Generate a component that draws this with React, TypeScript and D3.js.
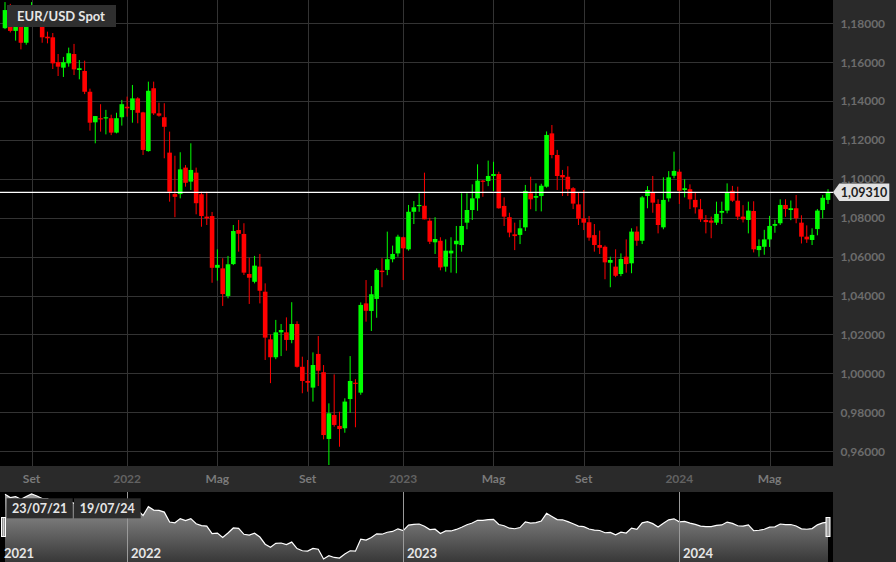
import React, { useEffect } from 'react';
import * as d3 from 'd3';

const W = 896;
const H = 562;
const START = new Date(2021, 6, 26);

const opens = [
  1.1775, 1.1868, 1.1761, 1.1795, 1.17, 1.1795, 1.188, 1.1813, 1.1731, 1.1728,
  1.16, 1.1572, 1.1594, 1.1642, 1.156, 1.1555, 1.1448, 1.1291, 1.1312, 1.1312,
  1.1312, 1.1238, 1.1317, 1.1371, 1.1354, 1.1414, 1.1342, 1.1143, 1.1466, 1.1337,
  1.1317, 1.1135, 1.0922, 1.0922, 1.1058, 1.0986, 1.1032, 1.0921, 1.0806, 1.0809,
  1.0543, 1.054, 1.0398, 1.0562, 1.0737, 1.0717, 1.0511, 1.0471, 1.0549, 1.042,
  1.0175, 1.0083, 1.0211, 1.0211, 1.0172, 1.0254, 1.0034, 0.9961, 0.9927, 1.01,
  1.0006, 0.9663, 0.9786, 0.973, 0.9718, 0.9868, 0.9952, 0.9901, 1.036, 1.0321,
  1.0383, 1.0528, 1.0532, 1.0587, 1.0617, 1.07, 1.0638, 1.0831, 1.0861, 1.0862,
  1.0785, 1.0674, 1.0682, 1.0549, 1.0617, 1.0664, 1.066, 1.0775, 1.084, 1.09,
  1.0991, 1.0989, 1.1015, 1.1025, 1.0861, 1.0803, 1.0715, 1.0712, 1.0751, 1.0926,
  1.0903, 1.0912, 1.096, 1.1234, 1.1123, 1.102, 1.1011, 1.0952, 1.0869, 1.0797,
  1.0777, 1.0711, 1.066, 1.0651, 1.0569, 1.0549, 1.0511, 1.06, 1.0566, 1.0729,
  1.0682, 1.0912, 1.0929, 1.0871, 1.0751, 1.09, 1.1016, 1.1037, 1.0943, 1.0947,
  1.0892, 1.0844, 1.0789, 1.0786, 1.0775, 1.0826, 1.0837, 1.0939, 1.0888, 1.0806,
  1.0789, 1.0835, 1.0634, 1.0651, 1.0689, 1.0759, 1.0772, 1.0866, 1.084, 1.0849,
  1.0775, 1.0703, 1.0686, 1.0742, 1.084, 1.0892,
];

const highs = [
  1.1909, 1.19, 1.1806, 1.1806, 1.181, 1.1909, 1.1884, 1.1846, 1.1757, 1.175,
  1.1642, 1.1627, 1.1675, 1.1694, 1.1611, 1.1608, 1.1464, 1.1323, 1.1384, 1.1355,
  1.133, 1.134, 1.1406, 1.1423, 1.1483, 1.142, 1.1345, 1.15, 1.15, 1.1392,
  1.1389, 1.1243, 1.1119, 1.1137, 1.1071, 1.1183, 1.1058, 1.0934, 1.0934, 1.083,
  1.0638, 1.0592, 1.0604, 1.0763, 1.0789, 1.0772, 1.0595, 1.0604, 1.0614, 1.0463,
  1.02, 1.0275, 1.0254, 1.0288, 1.0366, 1.0268, 1.0086, 1.0069, 1.0108, 1.0192,
  1.0043, 0.9846, 0.9995, 0.9803, 0.9872, 1.0089, 0.997, 1.0365, 1.048, 1.0449,
  1.054, 1.0592, 1.0729, 1.0657, 1.0713, 1.0703, 1.0866, 1.0886, 1.0926, 1.1032,
  1.08, 1.0803, 1.07, 1.0689, 1.07, 1.0758, 1.0926, 1.0926, 1.0972, 1.1075,
  1.0994, 1.1094, 1.1088, 1.1037, 1.0905, 1.0826, 1.0775, 1.0789, 1.0969, 1.1011,
  1.0977, 1.0975, 1.1244, 1.1277, 1.1149, 1.1046, 1.1065, 1.0958, 1.0929, 1.0943,
  1.0809, 1.0768, 1.0734, 1.0658, 1.06, 1.0638, 1.0617, 1.0689, 1.0746, 1.0756,
  1.0912, 1.0963, 1.1015, 1.0895, 1.1008, 1.104, 1.114, 1.1049, 1.0998, 1.0972,
  1.0932, 1.0897, 1.0814, 1.0806, 1.0883, 1.0883, 1.0977, 1.0964, 1.096, 1.0865,
  1.0883, 1.0885, 1.0689, 1.0738, 1.081, 1.079, 1.0895, 1.0895, 1.0889, 1.0917,
  1.0813, 1.0761, 1.0746, 1.0845, 1.0917, 1.0947,
];

const lows = [
  1.177, 1.1753, 1.1711, 1.1666, 1.169, 1.179, 1.18, 1.17, 1.1697, 1.1565,
  1.1529, 1.1524, 1.1577, 1.1534, 1.1512, 1.1436, 1.1248, 1.1183, 1.1243, 1.1229,
  1.1225, 1.1234, 1.1274, 1.132, 1.1289, 1.1286, 1.1123, 1.114, 1.1329, 1.132,
  1.1106, 1.0883, 1.0803, 1.09, 1.096, 1.0943, 1.0818, 1.0754, 1.0763, 1.0466,
  1.0477, 1.0347, 1.0386, 1.0557, 1.0626, 1.0506, 1.0357, 1.0463, 1.036, 1.0069,
  0.995, 1.0073, 1.0089, 1.0117, 1.0155, 1.003, 0.9898, 0.9906, 0.9855, 0.9935,
  0.9661, 0.9529, 0.9726, 0.9623, 0.9695, 0.9798, 0.9723, 0.989, 1.0266, 1.0218,
  1.0286, 1.0443, 1.0505, 1.0571, 1.06, 1.048, 1.0631, 1.0768, 1.0831, 1.0792,
  1.0665, 1.0614, 1.053, 1.0523, 1.0518, 1.0515, 1.0626, 1.0741, 1.0789, 1.0836,
  1.0908, 1.0963, 1.0938, 1.0847, 1.0758, 1.07, 1.0634, 1.0665, 1.0732, 1.0844,
  1.0834, 1.0833, 1.0955, 1.1106, 1.0943, 1.0912, 1.0912, 1.0845, 1.0763, 1.0737,
  1.0682, 1.0626, 1.0614, 1.0484, 1.0443, 1.0495, 1.05, 1.0518, 1.0515, 1.0656,
  1.0665, 1.0849, 1.0826, 1.072, 1.0741, 1.0883, 1.1003, 1.0871, 1.0905, 1.0845,
  1.0822, 1.0779, 1.072, 1.0695, 1.0763, 1.0768, 1.0823, 1.0882, 1.0789, 1.0776,
  1.072, 1.0622, 1.06, 1.061, 1.065, 1.0723, 1.0763, 1.0805, 1.0788, 1.0772,
  1.0668, 1.0671, 1.066, 1.071, 1.0797, 1.0871,
];

const closes = [
  1.1868, 1.1761, 1.1795, 1.17, 1.1795, 1.188, 1.1813, 1.1728, 1.1723, 1.1594,
  1.1577, 1.16, 1.1646, 1.1563, 1.1569, 1.1448, 1.1289, 1.1323, 1.1306, 1.1317,
  1.1238, 1.1312, 1.1384, 1.1363, 1.1414, 1.134, 1.1149, 1.1453, 1.1337, 1.1325,
  1.1268, 1.0934, 1.0908, 1.1049, 1.098, 1.1046, 1.0875, 1.0809, 1.0797, 1.0543,
  1.0558, 1.0408, 1.0561, 1.0732, 1.0718, 1.0518, 1.0492, 1.0554, 1.0425, 1.0184,
  1.0083, 1.0211, 1.0223, 1.0172, 1.0254, 1.0034, 0.9961, 0.9952, 1.0043, 1.0014,
  0.9683, 0.9795, 0.9735, 0.9714, 0.9855, 0.9961, 0.9946, 1.0352, 1.0322, 1.0407,
  1.0532, 1.0521, 1.0587, 1.0614, 1.0703, 1.0643, 1.0831, 1.0854, 1.0866, 1.0792,
  1.0677, 1.0691, 1.0545, 1.0631, 1.0631, 1.0682, 1.0758, 1.084, 1.09, 1.0991,
  1.0986, 1.1015, 1.1025, 1.0849, 1.0806, 1.0724, 1.0706, 1.0746, 1.0938, 1.0895,
  1.0912, 1.0965, 1.1226, 1.1123, 1.1015, 1.1008, 1.0947, 1.0873, 1.0795, 1.0775,
  1.0698, 1.066, 1.0646, 1.0571, 1.0583, 1.0502, 1.0588, 1.0562, 1.0729, 1.0682,
  1.0905, 1.0943, 1.0878, 1.0763, 1.0892, 1.1008, 1.1041, 1.0939, 1.0952, 1.0895,
  1.0854, 1.0792, 1.0778, 1.0775, 1.082, 1.0835, 1.0931, 1.0888, 1.0806, 1.0792,
  1.0837, 1.0638, 1.0655, 1.0689, 1.0758, 1.0768, 1.0866, 1.0845, 1.0849, 1.0797,
  1.0703, 1.0689, 1.0712, 1.0837, 1.0903, 1.0931,
];

const monthTicks = [
  { date: '2021-09-01', label: 'Set', year: false },
  { date: '2022-01-01', label: '2022', year: true },
  { date: '2022-05-01', label: 'Mag', year: false },
  { date: '2022-09-01', label: 'Set', year: false },
  { date: '2023-01-01', label: '2023', year: true },
  { date: '2023-05-01', label: 'Mag', year: false },
  { date: '2023-09-01', label: 'Set', year: false },
  { date: '2024-01-01', label: '2024', year: true },
  { date: '2024-05-01', label: 'Mag', year: false },
];

const navYears = [
  { date: '2021-01-01', label: '2021' },
  { date: '2022-01-01', label: '2022' },
  { date: '2023-01-01', label: '2023' },
  { date: '2024-01-01', label: '2024' },
];

const yTicks = [0.96, 0.98, 1.0, 1.02, 1.04, 1.06, 1.08, 1.1, 1.12, 1.14, 1.16, 1.18];
const lastPrice = 1.0931;
const title = 'EUR/USD Spot';
const rangeLabels = ['23/07/21', '19/07/24'];

const FONT = 'Lato, "Open Sans", sans-serif';

export default function App() {
  useEffect(() => {
    document.body.style.margin = '0';
    document.body.style.background = '#000';
  }, []);

  const n = closes.length;
  const dates = d3.range(n).map((i) => d3.timeDay.offset(START, 7 * i));
  const plotR = 833;
  const plotB = 466;
  const navT = 492;

  const x = d3.scaleLinear().domain([0, n - 1]).range([5, 828]);
  const y = d3.scaleLinear().domain([0.96, 1.18]).range([451.2, 23.3]);

  const parse = d3.timeParse('%Y-%m-%d');
  const tickIndex = (ds: string) => {
    const t = parse(ds)!;
    return dates.findIndex((d) => d3.timeDay.offset(d, 4) >= t);
  };

  const fmt = (v: number) => d3.format('.5f')(v).replace('.', ',');

  const navY = d3
    .scaleLinear()
    .domain(d3.extent(closes) as [number, number])
    .range([559, 494]);
  const idx = d3.range(n);
  const navArea = d3
    .area<number>()
    .x((i) => x(i))
    .y0(H)
    .y1((i) => navY(closes[i]))
    .curve(d3.curveLinear);
  const navLine = d3
    .line<number>()
    .x((i) => x(i))
    .y((i) => navY(closes[i]));

  const bodyW = 4.6;
  const priceY = y(lastPrice);

  return (
    <svg
      width={W}
      height={H}
      style={{ position: 'fixed', left: 0, top: 0, display: 'block' }}
      fontFamily={FONT}
    >
      <defs>
        <clipPath id="plotClip">
          <rect x={0} y={0} width={plotR} height={plotB} />
        </clipPath>
        <linearGradient id="navGrad" x1="0" y1={navT} x2="0" y2={H} gradientUnits="userSpaceOnUse">
          <stop offset="0" stopColor="#a0a0a0" />
          <stop offset="1" stopColor="#383838" />
        </linearGradient>
      </defs>
      <rect x={0} y={0} width={W} height={H} fill="#000" />

      {/* grid */}
      <g clipPath="url(#plotClip)">
        {yTicks.map((t) => (
          <line key={'gy' + t} x1={0} x2={plotR} y1={Math.round(y(t)) + 0.5} y2={Math.round(y(t)) + 0.5} stroke="#333" strokeWidth={1} />
        ))}
        {monthTicks.map((m) => {
          const xx = Math.round(x(tickIndex(m.date))) + 0.5;
          return <line key={'gx' + m.date} x1={xx} x2={xx} y1={0} y2={plotB} stroke="#333" strokeWidth={1} />;
        })}

        {/* candles */}
        {idx.map((i) => {
          const o = opens[i];
          const c = closes[i];
          const up = c >= o;
          const col = up ? '#00ff00' : '#ff0000';
          const cx = x(i);
          const top = y(Math.max(o, c));
          const bot = y(Math.min(o, c));
          return (
            <g key={'c' + i}>
              <line x1={cx} x2={cx} y1={y(highs[i])} y2={y(lows[i])} stroke={col} strokeWidth={1} />
              <rect x={cx - bodyW / 2} y={top} width={bodyW} height={Math.max(1.2, bot - top)} fill={col} />
            </g>
          );
        })}

        {/* last price line */}
        <line x1={0} x2={plotR} y1={priceY} y2={priceY} stroke="#ffffff" strokeWidth={1.2} />
      </g>

      {/* title box */}
      <rect x={7} y={5} width={109} height={22} fill="#2f2f2f" />
      <text x={17} y={21} fill="#e6e6e6" fontSize={13} fontWeight={700}>
        {title}
      </text>

      {/* right axis panel */}
      <rect x={plotR} y={0} width={W - plotR} height={H} fill="#2a2a2a" />
      {yTicks.map((t) => (
        <text key={'yl' + t} x={840.5} y={y(t)} dy="0.36em" fill="#6c6c6c" fontSize={12} fontWeight={700}>
          {fmt(t)}
        </text>
      ))}
      {/* price tag */}
      <path
        d={`M${plotR},${priceY} L${839.3},${priceY - 8.8} L${889.3},${priceY - 8.8} L${889.3},${priceY + 8.8} L${839.3},${priceY + 8.8} Z`}
        fill="#e2e2e2"
      />
      <text x={864} y={priceY} dy="0.36em" textAnchor="middle" fill="#1e1e1e" fontSize={12.5} fontWeight={700}>
        {fmt(lastPrice)}
      </text>

      {/* x axis band */}
      <rect x={0} y={plotB} width={plotR} height={navT - plotB} fill="#2a2a2a" />
      {monthTicks.map((m) => (
        <text
          key={'xl' + m.date}
          x={x(tickIndex(m.date))}
          y={479}
          dy="0.36em"
          textAnchor="middle"
          fill={m.year ? '#626262' : '#7a7a7a'}
          fontSize={12}
          fontWeight={700}
        >
          {m.label}
        </text>
      ))}

      {/* navigator */}
      <rect x={0} y={navT} width={plotR} height={H - navT} fill="#000" />
      <path d={navArea(idx) || ''} fill="url(#navGrad)" />
      <path d={navLine(idx) || ''} fill="none" stroke="#ffffff" strokeWidth={1.2} />
      {navYears.map((yr) => {
        const t = parse(yr.date)!;
        const before = t < START;
        const xx = before ? 0 : Math.round(x(tickIndex(yr.date))) + 0.5;
        return (
          <g key={'ny' + yr.label}>
            {!before && <line x1={xx} x2={xx} y1={navT} y2={H} stroke="#9a9a9a" strokeWidth={1} />}
            <text x={before ? 4 : xx + 3.5} y={553} dy="0.36em" fill="#e6e6e6" fontSize={13} fontWeight={700}>
              {yr.label}
            </text>
          </g>
        );
      })}
      {/* range date boxes */}
      <rect x={6.7} y={498.3} width={66} height={20} fill="#2c2c2c" />
      <rect x={74} y={498.3} width={66.7} height={20} fill="#2c2c2c" />
      <text x={39.7} y={508.5} dy="0.36em" textAnchor="middle" fill="#e6e6e6" fontSize={12.5} fontWeight={700}>
        {rangeLabels[0]}
      </text>
      <text x={107.3} y={508.5} dy="0.36em" textAnchor="middle" fill="#e6e6e6" fontSize={12.5} fontWeight={700}>
        {rangeLabels[1]}
      </text>
      {/* handles */}
      {[x(0) - 1.5, x(n - 1)].map((hx, k) => (
        <g key={'h' + k}>
          <rect x={hx - 2.5} y={517} width={5} height={20} fill="#ffffff" />
          <line x1={hx - 0.8} x2={hx - 0.8} y1={518} y2={536} stroke="#555" strokeWidth={0.8} />
          <line x1={hx + 0.8} x2={hx + 0.8} y1={518} y2={536} stroke="#555" strokeWidth={0.8} />
        </g>
      ))}
    </svg>
  );
}
